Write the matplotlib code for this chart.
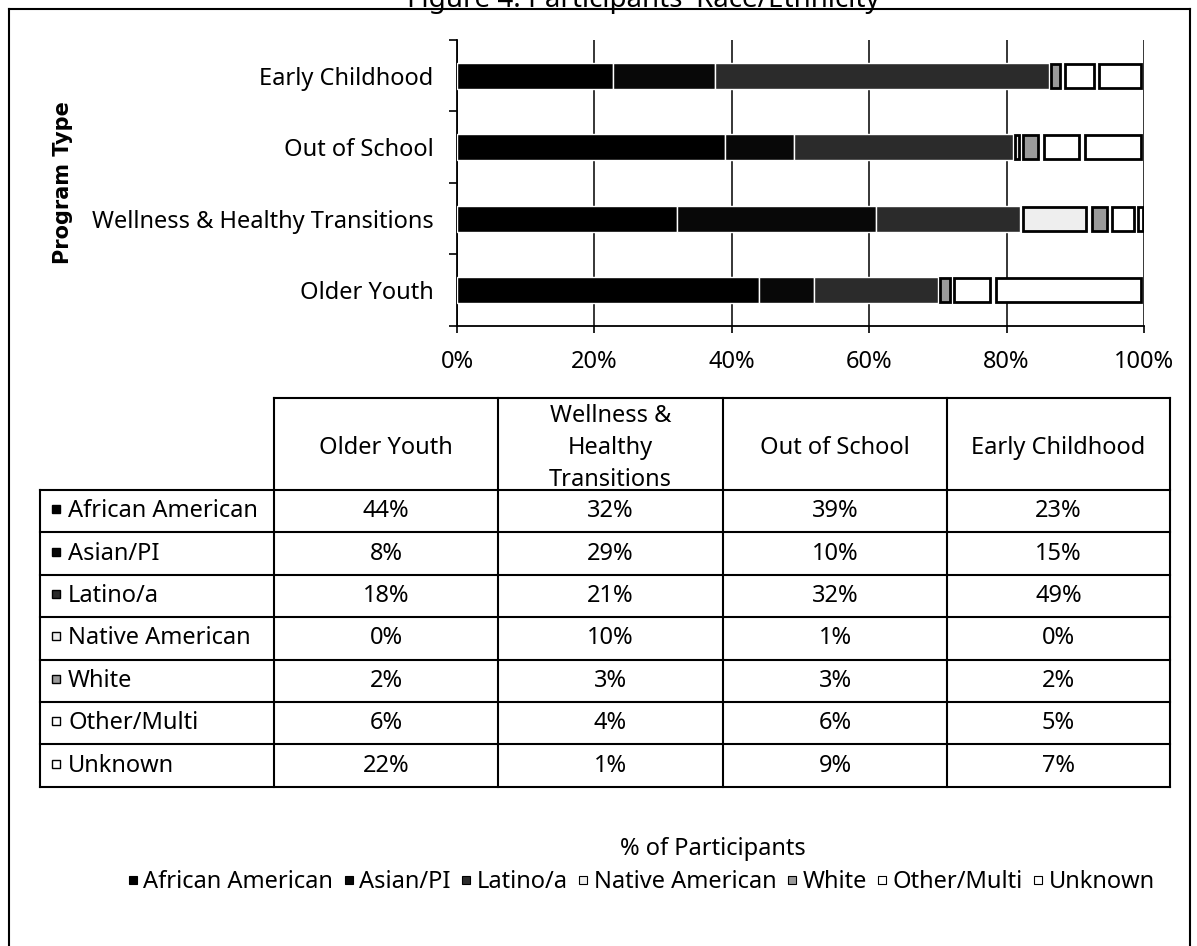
import numpy as np
import matplotlib
matplotlib.use("Agg")
import matplotlib.pyplot as plt
from matplotlib.lines import Line2D
from matplotlib.ticker import FuncFormatter

plt.rcParams['font.family'] = ['Noto Sans', 'DejaVu Sans']

W, H = 1197, 946

PROGRAMS = ["Older Youth", "Wellness & Healthy Transitions", "Out of School", "Early Childhood"]
HEADER_LABELS = ["Older Youth", "Wellness &\nHealthy\nTransitions", "Out of School", "Early Childhood"]
GROUPS = ["African American", "Asian/PI", "Latino/a", "Native American", "White", "Other/Multi", "Unknown"]

african_american = [44, 32, 39, 23]
asian_pi = [8, 29, 10, 15]
latino = [18, 21, 32, 49]
native_american = [0, 10, 1, 0]
white = [2, 3, 3, 2]
other_multi = [6, 4, 6, 5]
unknown = [22, 1, 9, 7]

SERIES = [african_american, asian_pi, latino, native_american, white, other_multi, unknown]
COLORS = ["#000000", "#080808", "#2b2b2b", "#eeeeee", "#9a9a9a", "#ffffff", "#ffffff"]
DARK = [True, True, True, False, False, False, False]

FS = 17

fig = plt.figure(figsize=(W / 100, H / 100), dpi=100)

# full-figure overlay in pixel coords for frame + table
ov = fig.add_axes([0, 0, 1, 1])
ov.set_xlim(0, W)
ov.set_ylim(H, 0)
ov.axis("off")

# frame and title (top of the scan is cut off)
ov.plot([9, 1190], [9, 9], color="black", lw=1.5)
ov.plot([9, 9], [9, H], color="black", lw=1.5)
ov.plot([1190, 1190], [9, H], color="black", lw=1.5)
ov.text(643, 7, "Figure 4: Participants' Race/Ethnicity", ha="center", va="baseline",
        fontsize=20)

# ---- stacked bar chart ----
ax = fig.add_axes([457 / W, 1 - 326 / H, (1144 - 457) / W, (326 - 40) / H])
data = np.array(SERIES, dtype=float)
shares = data / data.sum(axis=0) * 100
y = np.arange(len(PROGRAMS))
left = np.zeros(len(PROGRAMS))
for vals, col, dark in zip(shares, COLORS, DARK):
    if dark:
        ax.barh(y, vals, left=left, height=0.36, color=col,
                edgecolor="white", linewidth=1.0, zorder=3)
    else:
        # light segments: outlined boxes with a small white gap between them
        gap = np.where(vals > 0, np.minimum(0.8, vals * 0.3), 0)
        lws = [0 if v == 0 else 2.0 for v in vals]
        ax.barh(y, vals - gap, left=left + gap / 2, height=0.34, color=col,
                edgecolor="black", linewidth=lws, zorder=3)
    left += vals

ax.set_xlim(0, 100)
ax.set_ylim(-0.5, len(PROGRAMS) - 0.5)
ax.set_xticks(range(0, 101, 20))
ax.xaxis.set_major_formatter(FuncFormatter(lambda v, p: f"{v:.0f}%"))
ax.set_yticks(y)
ax.set_yticklabels(PROGRAMS)
ax.set_yticks(np.arange(-0.5, len(PROGRAMS)), minor=True)
ax.tick_params(axis="y", which="major", length=0, pad=17, labelsize=FS)
ax.tick_params(axis="y", which="minor", length=6, width=1.2, direction="out")
ax.tick_params(axis="x", length=5, width=1.2, pad=12, labelsize=FS)
ax.grid(axis="x", color="black", lw=1.1)
ax.set_axisbelow(True)
for s in ["top", "right"]:
    ax.spines[s].set_visible(False)
for s in ["left", "bottom"]:
    ax.spines[s].set_linewidth(1.3)
fig.text(63 / W, 1 - 183 / H, "Program Type", rotation=90, ha="center", va="center",
         fontsize=15, fontweight="bold", family="DejaVu Sans")

# ---- data table ----
col_x = [40, 274, 498, 723, 947, 1170]
top, head_bot, row_h = 398, 490, 42.4
n_rows = len(GROUPS)
bot = head_bot + row_h * n_rows
lw = 1.5
ov.plot([col_x[1], col_x[-1]], [top, top], color="black", lw=lw)
for x in col_x[1:]:
    ov.plot([x, x], [top, bot], color="black", lw=lw)
ov.plot([col_x[0], col_x[0]], [head_bot, bot], color="black", lw=lw)
for i in range(n_rows + 1):
    yy = head_bot + row_h * i
    ov.plot([col_x[0], col_x[-1]], [yy, yy], color="black", lw=lw)

for j, lab in enumerate(HEADER_LABELS):
    ov.text((col_x[j + 1] + col_x[j + 2]) / 2, (top + head_bot) / 2 + 4, lab,
            ha="center", va="center", fontsize=FS, linespacing=1.45)

for i, (g, vals) in enumerate(zip(GROUPS, SERIES)):
    yc = head_bot + row_h * (i + 0.5)
    ov.add_patch(plt.Rectangle((52, yc - 6), 8, 8, facecolor=COLORS[i], edgecolor="black", lw=1))
    ov.text(68, yc, g, ha="left", va="center", fontsize=FS)
    for j, v in enumerate(vals):
        ov.text((col_x[j + 1] + col_x[j + 2]) / 2, yc, f"{v}%", ha="center", va="center", fontsize=FS)

ov.text(713, 849, "% of Participants", ha="center", va="center", fontsize=FS)

handles = [Line2D([], [], marker="s", linestyle="none", markersize=6,
                  markerfacecolor=c, markeredgecolor="black", markeredgewidth=0.8) for c in COLORS]
fig.legend(handles, GROUPS, loc="center", bbox_to_anchor=(641 / W, 1 - 882 / H), ncol=7,
           frameon=False, fontsize=FS, handlelength=0.5, handletextpad=0.2, columnspacing=0.4,
           borderaxespad=0)

fig.savefig("out.png", dpi=100)
